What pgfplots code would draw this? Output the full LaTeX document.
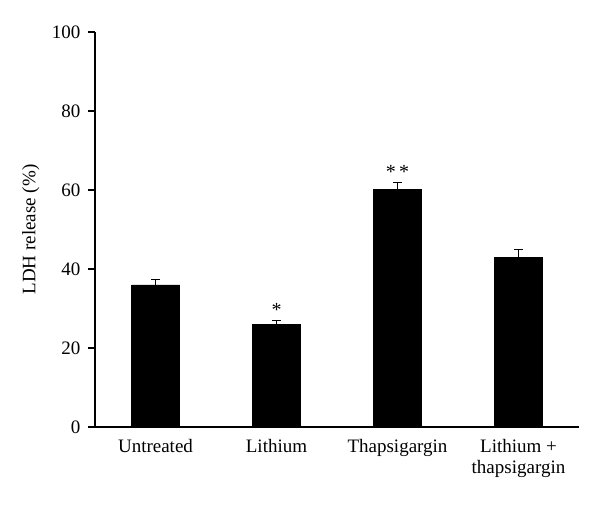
\documentclass[border=0pt]{standalone}
\usepackage{pgfplots}
\pgfplotsset{compat=1.18}
\usepackage{fontspec}
\setmainfont{Liberation Serif}
\begin{document}
\begin{tikzpicture}[x=1pt,y=1pt]
\useasboundingbox (0,0) rectangle (600,505);
\begin{axis}[
  at={(95pt,78pt)}, anchor=south west,
  scale only axis, width=484pt, height=395pt,
  xmin=-0.5, xmax=3.5, ymin=0, ymax=100,
  axis x line=bottom, axis y line=left,
  axis line style={line width=1.2pt,-},
  xtick={0,1,2,3},
  xticklabels={Untreated, Lithium, Thapsigargin, {Lithium +\\thapsigargin}},
  xticklabel style={align=center, font=\fontsize{19}{21}\selectfont, yshift=-2pt},
  x tick style={draw=none},
  ytick={0,20,...,100},
  yticklabel style={font=\fontsize{19}{21}\selectfont, xshift=-4pt},
  y tick style={line width=1.2pt, black},
  tick align=outside, major tick length=7pt,
  /pgf/number format/assume math mode=true,
  ylabel={LDH release (\%)},
  every axis y label/.style={at={(axis description cs:0,0.5)}, anchor=south, rotate=90, yshift=52pt, font=\fontsize{19}{21}\selectfont},
  clip=false,
]
\addplot[ybar, bar width=48pt, fill=black, draw=black,
  error bars/.cd, y dir=plus, y explicit,
  error bar style={line width=1.2pt, black},
  error mark options={rotate=90, mark size=4.5pt, line width=1.2pt}]
coordinates {
  (0,36.0) +- (0,1.3)
  (1,25.9) +- (0,1.0)
  (2,60.1) +- (0,1.8)
  (3,43.0) +- (0,2.0)
};
\node[font=\fontsize{20}{22}\selectfont] at (axis cs:1,29.6) {*};
\node[font=\fontsize{20}{22}\selectfont] at (axis cs:2,64.6) {*\,*};
\end{axis}
\end{tikzpicture}
\end{document}
